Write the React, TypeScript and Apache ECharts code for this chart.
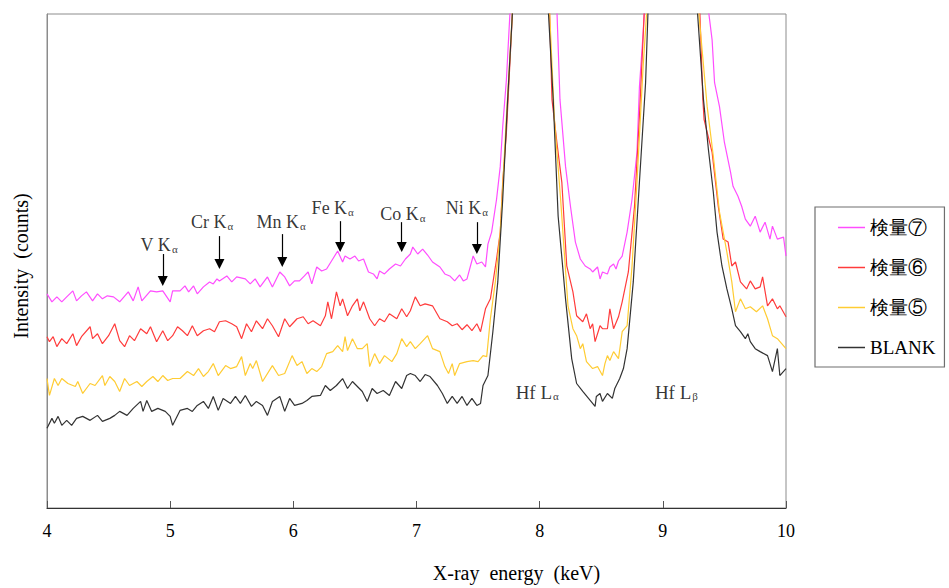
import React, { useEffect, useRef } from 'react';
import * as echarts from 'echarts';

const SERIF = "'Liberation Serif', 'Times New Roman', serif";

// x-axis ticks (keV)
const xMin = 4;
const xMax = 10;
const xInterval = 1;
// arbitrary intensity scale (no tick labels in the original)
const yMin = 0;
const yMax = 496;

const seriesNames = ['検量⑦', '検量⑥', '検量⑤', 'BLANK'];
const seriesColors = ['#ff4dff', '#ff3b3b', '#ffcc33', '#333333'];

// [energy keV, intensity]
const kenryo7: [number, number][] = [
  [4.00,215],[4.04,207],[4.08,212],[4.12,207],[4.16,212],[4.21,218],[4.24,208],[4.28,213],[4.32,217],[4.37,208],[4.41,215],[4.45,210],[4.49,213],[4.54,212],[4.59,207],[4.66,217],[4.70,208],[4.74,222],[4.77,208],[4.84,218],[4.89,217],[4.94,218],[5.00,207],[5.02,218],[5.08,218],[5.12,223],[5.15,217],[5.19,223],[5.22,215],[5.27,222],[5.32,227],[5.35,225],[5.38,230],[5.40,228],[5.46,233],[5.50,227],[5.54,232],[5.61,230],[5.65,225],[5.69,230],[5.73,222],[5.79,232],[5.83,222],[5.89,237],[5.93,232],[5.97,223],[6.01,228],[6.05,228],[6.09,233],[6.12,237],[6.15,225],[6.19,242],[6.23,238],[6.27,240],[6.32,250],[6.36,258],[6.40,247],[6.42,253],[6.46,250],[6.50,253],[6.53,248],[6.57,250],[6.61,237],[6.65,235],[6.68,230],[6.70,238],[6.74,235],[6.78,240],[6.83,245],[6.87,243],[6.91,250],[6.95,255],[6.97,262],[7.01,255],[7.05,260],[7.09,254],[7.13,247],[7.19,242],[7.23,235],[7.27,233],[7.31,228],[7.35,234],[7.38,228],[7.41,230],[7.46,253],[7.49,245],[7.53,247],[7.56,242],[7.58,265],[7.61,277],[7.65,310],[7.68,343],[7.70,383],[7.73,430],[7.76,500],[7.92,1500],[8.14,500],[8.165,410],[8.21,343],[8.25,303],[8.29,267],[8.33,250],[8.37,243],[8.41,240],[8.43,237],[8.47,242],[8.49,230],[8.51,237],[8.55,235],[8.57,242],[8.60,245],[8.62,240],[8.64,248],[8.67,253],[8.71,277],[8.75,310],[8.79,357],[8.81,423],[8.84,477],[8.85,500],[9.07,1500],[9.37,500],[9.40,470],[9.42,427],[9.46,403],[9.50,367],[9.55,337],[9.57,323],[9.61,313],[9.64,303],[9.67,290],[9.71,283],[9.75,293],[9.79,277],[9.83,287],[9.87,270],[9.89,283],[9.93,270],[9.98,272],[10.00,253],
];

const kenryo6: [number, number][] = [
  [4.00,172],[4.02,167],[4.05,172],[4.08,162],[4.12,170],[4.16,165],[4.21,175],[4.24,163],[4.28,172],[4.35,182],[4.37,170],[4.41,175],[4.45,165],[4.50,173],[4.55,185],[4.59,168],[4.63,162],[4.67,173],[4.71,168],[4.76,180],[4.81,175],[4.84,182],[4.89,167],[4.94,178],[4.98,168],[5.02,173],[5.06,182],[5.10,178],[5.14,173],[5.18,183],[5.22,173],[5.27,178],[5.32,180],[5.36,177],[5.40,187],[5.45,188],[5.50,185],[5.54,182],[5.58,170],[5.62,185],[5.66,177],[5.70,188],[5.75,180],[5.79,190],[5.83,183],[5.88,172],[5.93,190],[5.97,182],[6.03,190],[6.08,192],[6.12,185],[6.16,188],[6.22,183],[6.26,193],[6.28,207],[6.31,190],[6.35,217],[6.38,203],[6.40,210],[6.44,193],[6.48,203],[6.52,210],[6.54,198],[6.57,207],[6.62,190],[6.66,183],[6.70,190],[6.74,187],[6.78,195],[6.84,190],[6.88,200],[6.92,192],[6.95,198],[6.99,212],[7.03,203],[7.07,205],[7.13,203],[7.19,190],[7.25,187],[7.29,183],[7.33,185],[7.37,179],[7.41,184],[7.45,178],[7.49,185],[7.52,177],[7.56,200],[7.60,210],[7.65,250],[7.68,277],[7.70,327],[7.73,377],[7.78,500],[7.92,1500],[8.08,500],[8.10,410],[8.14,367],[8.18,327],[8.22,243],[8.27,217],[8.30,193],[8.35,187],[8.38,195],[8.41,180],[8.43,185],[8.45,167],[8.49,183],[8.51,180],[8.55,180],[8.57,200],[8.60,180],[8.64,192],[8.67,207],[8.72,237],[8.77,303],[8.81,393],[8.85,500],[9.07,1500],[9.30,500],[9.325,410],[9.335,390],[9.40,357],[9.45,303],[9.49,270],[9.53,267],[9.56,243],[9.59,247],[9.63,227],[9.68,220],[9.71,228],[9.75,220],[9.79,222],[9.81,232],[9.85,203],[9.89,210],[9.93,200],[9.95,203],[10.00,192],
];

const kenryo5: [number, number][] = [
  [4.00,130],[4.02,113],[4.06,130],[4.09,123],[4.12,130],[4.17,125],[4.23,122],[4.25,127],[4.29,115],[4.35,125],[4.39,123],[4.45,133],[4.47,123],[4.51,132],[4.55,127],[4.59,117],[4.63,130],[4.67,123],[4.73,127],[4.77,122],[4.81,127],[4.86,132],[4.90,127],[4.94,133],[4.98,128],[5.02,130],[5.08,130],[5.14,137],[5.19,133],[5.23,140],[5.27,132],[5.31,137],[5.35,145],[5.39,133],[5.45,143],[5.49,140],[5.54,142],[5.58,152],[5.61,133],[5.65,145],[5.67,140],[5.70,148],[5.75,127],[5.83,143],[5.88,133],[5.93,135],[5.99,153],[6.03,143],[6.07,147],[6.11,135],[6.15,140],[6.19,137],[6.23,142],[6.27,155],[6.32,157],[6.36,163],[6.40,157],[6.42,172],[6.44,158],[6.48,170],[6.52,160],[6.56,160],[6.60,165],[6.62,142],[6.66,155],[6.70,145],[6.74,153],[6.80,147],[6.84,155],[6.88,170],[6.92,162],[6.95,167],[6.99,160],[7.03,165],[7.09,173],[7.13,160],[7.19,157],[7.23,142],[7.26,135],[7.29,145],[7.31,133],[7.35,145],[7.41,147],[7.46,148],[7.50,147],[7.54,153],[7.57,152],[7.60,190],[7.64,227],[7.68,277],[7.73,393],[7.78,500],[7.92,1500],[8.08,500],[8.12,390],[8.17,310],[8.23,203],[8.27,180],[8.30,173],[8.33,160],[8.35,165],[8.38,147],[8.43,140],[8.47,142],[8.51,133],[8.53,145],[8.55,153],[8.57,148],[8.60,157],[8.64,150],[8.67,177],[8.71,183],[8.75,243],[8.79,327],[8.84,443],[8.87,500],[9.07,1500],[9.29,500],[9.36,403],[9.41,353],[9.46,297],[9.52,257],[9.56,227],[9.59,197],[9.63,210],[9.67,200],[9.71,202],[9.76,197],[9.81,203],[9.85,190],[9.89,173],[9.93,170],[10.00,160],
];

const blank: [number, number][] = [
  [4.00,80],[4.04,90],[4.06,85],[4.09,92],[4.12,83],[4.16,88],[4.20,83],[4.24,90],[4.29,92],[4.35,88],[4.41,93],[4.45,87],[4.51,90],[4.55,93],[4.59,97],[4.65,93],[4.70,100],[4.76,107],[4.78,97],[4.81,108],[4.85,97],[4.90,100],[4.96,97],[5.00,92],[5.02,83],[5.08,98],[5.14,100],[5.18,97],[5.22,103],[5.27,107],[5.31,100],[5.35,112],[5.39,98],[5.43,110],[5.49,105],[5.53,112],[5.57,105],[5.61,113],[5.66,102],[5.70,107],[5.75,103],[5.79,93],[5.83,107],[5.89,112],[5.93,97],[5.97,110],[6.01,103],[6.07,105],[6.11,108],[6.15,112],[6.22,113],[6.26,123],[6.30,118],[6.35,123],[6.40,130],[6.44,120],[6.48,127],[6.52,122],[6.56,117],[6.60,107],[6.64,120],[6.68,115],[6.73,118],[6.78,113],[6.83,127],[6.88,120],[6.92,133],[6.95,135],[6.99,133],[7.03,127],[7.07,134],[7.11,132],[7.17,123],[7.21,115],[7.25,105],[7.29,112],[7.33,105],[7.37,112],[7.41,103],[7.45,110],[7.49,103],[7.52,105],[7.54,123],[7.58,133],[7.62,177],[7.66,227],[7.70,310],[7.74,410],[7.78,500],[7.92,1500],[8.07,500],[8.11,410],[8.15,293],[8.21,210],[8.26,150],[8.30,125],[8.35,117],[8.41,108],[8.45,102],[8.46,112],[8.49,115],[8.51,107],[8.55,115],[8.59,110],[8.61,120],[8.65,130],[8.68,140],[8.71,160],[8.76,227],[8.81,327],[8.86,427],[8.88,500],[9.07,1500],[9.28,500],[9.33,410],[9.37,360],[9.41,317],[9.44,277],[9.48,243],[9.52,220],[9.56,200],[9.59,183],[9.63,177],[9.67,170],[9.69,175],[9.71,167],[9.75,160],[9.79,157],[9.85,153],[9.89,137],[9.93,160],[9.95,133],[10.00,140],
];

const seriesData = [kenryo7, kenryo6, kenryo5, blank];

// element line annotations (label position and arrow, in data units)
const elemNames = ['V', 'Cr', 'Mn', 'Fe', 'Co', 'Ni'];
const elemLabelE = [4.91, 5.34, 5.90, 6.32, 6.89, 7.41];
const elemLabelI = [264, 287, 287, 301, 295, 301];
const arrowE = [4.94, 5.40, 5.91, 6.38, 6.88, 7.49];
const arrowTop = [255, 273, 275, 288, 287, 287];
const arrowTip = [223, 240, 242, 257, 257, 255];

// Hf peak labels
const hfNames = ['Hf L', 'Hf L'];
const hfSubs = ['α', 'β'];
const hfE = [7.98, 9.11];
const hfI = [116, 116];

const richStyles = (size: number) => ({
  m: { fontFamily: SERIF, fontSize: size, color: '#000' },
  s: { fontFamily: SERIF, fontSize: 11, color: '#000', padding: [8, 0, 0, 1] },
});

export default function App() {
  const ref = useRef<HTMLDivElement>(null);
  useEffect(() => {
    document.body.style.margin = '0';
    const chart = echarts.init(ref.current!, undefined, { renderer: 'svg' });

    const lineSeries = seriesNames.map((name, i) => ({
      name,
      type: 'line',
      data: seriesData[i],
      symbol: 'none',
      clip: true,
      z: 2 + i,
      lineStyle: { color: seriesColors[i], width: 1.2 },
      itemStyle: { color: seriesColors[i] },
    }));

    const option: any = {
      animation: false,
      backgroundColor: '#ffffff',
      grid: {
        left: 47,
        right: 163,
        top: 14,
        bottom: 78,
        show: true,
        borderColor: '#8c8c8c',
        borderWidth: 1,
      },
      legend: {
        data: seriesNames.map((n) => ({ name: n, icon: 'rect' })),
        orient: 'vertical',
        left: 815,
        top: 207,
        padding: [11, 9, 10, 23],
        itemGap: 21,
        itemWidth: 27,
        itemHeight: 1.5,
        borderColor: '#6e6e6e',
        borderWidth: 1.2,
        backgroundColor: '#ffffff',
        textStyle: { fontFamily: SERIF, fontSize: 19, color: '#000' },
      },
      xAxis: {
        type: 'value',
        min: xMin,
        max: xMax,
        interval: xInterval,
        name: 'X-ray  energy  (keV)',
        nameLocation: 'middle',
        nameGap: 55,
        nameTextStyle: {
          fontFamily: SERIF,
          fontSize: 20,
          color: '#000',
          padding: [0, 0, 0, 200],
        },
        axisLine: { lineStyle: { color: '#333', width: 1.2 } },
        axisTick: { inside: true, length: 7, lineStyle: { color: '#555' } },
        axisLabel: { fontFamily: SERIF, fontSize: 18, color: '#000', margin: 14 },
        splitLine: { show: false },
      },
      yAxis: {
        type: 'value',
        min: yMin,
        max: yMax,
        name: 'Intensity  (counts)',
        nameLocation: 'middle',
        nameGap: 16,
        nameTextStyle: { fontFamily: SERIF, fontSize: 20, color: '#000', padding: [0, 10, 0, 0] },
        axisLine: { show: true, lineStyle: { color: '#8c8c8c', width: 1 } },
        axisTick: { show: false },
        axisLabel: { show: false },
        splitLine: { show: false },
      },
      series: [
        ...lineSeries,
        {
          type: 'scatter',
          silent: true,
          symbolSize: 0,
          z: 10,
          data: elemNames.map((n, i) => ({ value: [elemLabelE[i], elemLabelI[i]], name: n })),
          label: {
            show: true,
            position: 'inside',
            formatter: (p: any) => `{m|${p.name} K}{s|α}`,
            rich: richStyles(18),
          },
          markLine: {
            silent: true,
            symbol: ['none', 'triangle'],
            symbolSize: [10, 10],
            label: { show: false },
            lineStyle: { color: '#000', width: 1.2, type: 'solid' },
            data: arrowE.map((e, i) => [
              { coord: [e, arrowTop[i]] },
              { coord: [e, arrowTip[i] + 5] },
            ]),
          },
        },
        {
          type: 'scatter',
          silent: true,
          symbolSize: 0,
          z: 10,
          data: hfNames.map((n, i) => ({ value: [hfE[i], hfI[i]], name: n })),
          label: {
            show: true,
            position: 'inside',
            formatter: (p: any) => `{m|${p.name}}{s|${hfSubs[p.dataIndex]}}`,
            rich: richStyles(19),
          },
        },
      ],
    };

    chart.setOption(option);
    return () => chart.dispose();
  }, []);
  return <div ref={ref} style={{ width: 949, height: 588 }} />;
}
